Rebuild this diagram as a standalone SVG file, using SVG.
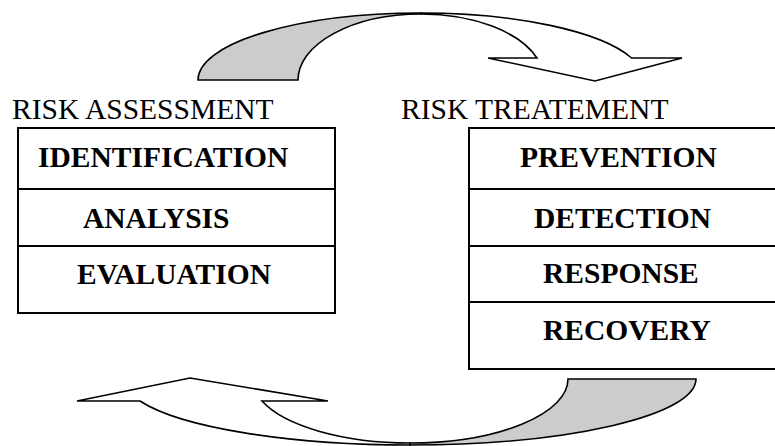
<svg xmlns="http://www.w3.org/2000/svg" width="775" height="446" viewBox="0 0 775 446">
  <style>
    .box { fill: #ffffff; stroke: #000000; stroke-width: 2; }
    .rule { stroke: #000000; stroke-width: 2; fill: none; }
    .title { font-family: "Liberation Serif", "Times New Roman", serif; font-size: 29.5px; fill: #000000; }
    .item { font-family: "Liberation Serif", "Times New Roman", serif; font-size: 29.5px; font-weight: bold; fill: #000000; }
    .back { fill: #cccccc; stroke: #000000; stroke-width: 1.6; stroke-linejoin: miter; }
    .front { fill: #ffffff; stroke: #000000; stroke-width: 1.6; stroke-linejoin: miter; }
  </style>
  <rect width="775" height="446" fill="#ffffff"/>

  <!-- curved arrows linking the two stages -->
  <g id="connectors">
    <g id="arrow-top">
      <path class="back" d="M198,80 A223,67 0 0 1 421,13 L421,14 A123,66 0 0 0 298,80 Z"/>
      <path class="front" d="M421,13 A223,67 0 0 1 631.6,58 L682,58 L595,81 L488,58 L537,58 A123,66 0 0 0 421,14 Z"/>
    </g>
    <g id="arrow-bottom">
      <path class="back" d="M696,379 A286,66 0 0 1 410,445 L410,443 A158,64 0 0 0 568,379 Z"/>
      <path class="front" d="M410,445 A286,66 0 0 1 140,401 L77,401 L190,378 L328,401 L262,401 A158,64 0 0 0 410,443 Z"/>
    </g>
  </g>

  <!-- risk assessment stage -->
  <g id="risk-assessment">
    <text class="title" x="12" y="119">RISK ASSESSMENT</text>
    <rect class="box" x="18" y="128" width="317" height="185"/>
    <line class="rule" x1="18" y1="189" x2="335" y2="189"/>
    <line class="rule" x1="18" y1="246" x2="335" y2="246"/>
    <text class="item" x="38" y="167">IDENTIFICATION</text>
    <text class="item" x="83" y="228">ANALYSIS</text>
    <text class="item" x="77" y="284">EVALUATION</text>
  </g>

  <!-- risk treatment stage -->
  <g id="risk-treatment">
    <text class="title" x="401" y="119">RISK TREATEMENT</text>
    <rect class="box" x="469" y="128" width="330" height="241"/>
    <line class="rule" x1="469" y1="189" x2="800" y2="189"/>
    <line class="rule" x1="469" y1="246" x2="800" y2="246"/>
    <line class="rule" x1="469" y1="302" x2="800" y2="302"/>
    <text class="item" x="520" y="167">PREVENTION</text>
    <text class="item" x="534" y="228">DETECTION</text>
    <text class="item" x="543" y="283">RESPONSE</text>
    <text class="item" x="543" y="340">RECOVERY</text>
  </g>
</svg>
